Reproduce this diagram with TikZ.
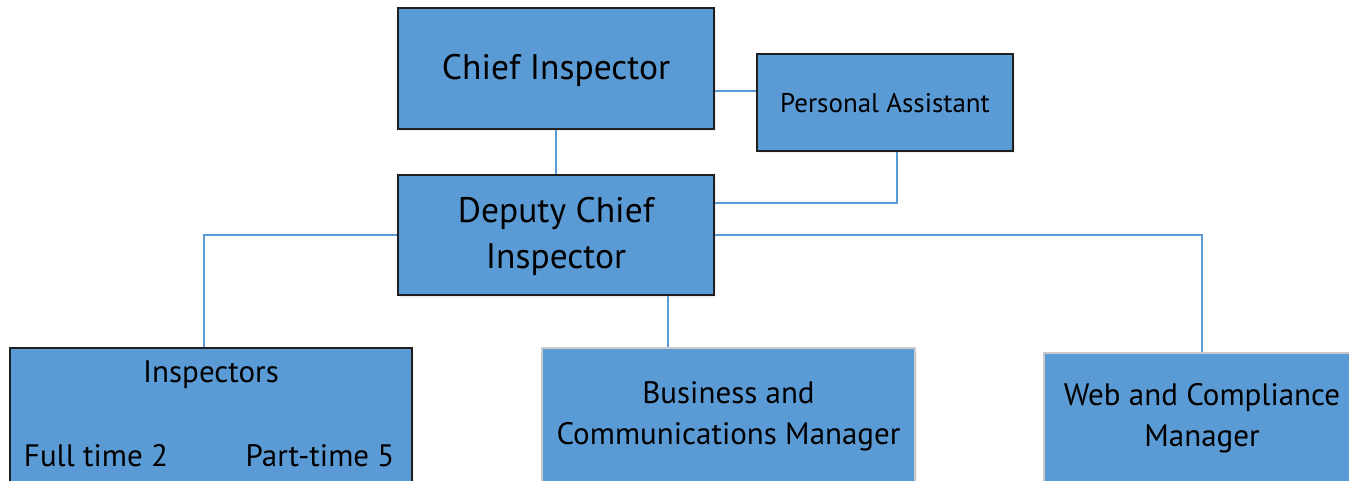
\documentclass[tikz,border=0pt]{standalone}
\usepackage{fontspec}
\setmainfont{PT Sans}
\usetikzlibrary{shadows}
\definecolor{boxblue}{HTML}{5B9BD5}
\definecolor{linkblue}{HTML}{5B9BD5}
\definecolor{softgray}{HTML}{CACACA}
\begin{document}
\begin{tikzpicture}[x=1pt,y=-1pt,
  box/.style={rectangle, draw=black!88, line width=1.6pt, fill=boxblue, inner sep=0pt,
    drop shadow={opacity=0.12, shadow xshift=1.5pt, shadow yshift=-2.5pt}},
  lightbox/.style={box, draw=softgray},
  link/.style={draw=linkblue, line width=2pt},
  bigtext/.style={align=center, font=\fontsize{35.5}{46}\selectfont},
  midtext/.style={align=center, font=\fontsize{31}{41}\selectfont},
  smalltext/.style={align=center, font=\fontsize{27}{32}\selectfont}]
\useasboundingbox (0,0) rectangle (1349,481);
\clip (0,0) rectangle (1349,481);

% boxes
\node[box, minimum width=316pt, minimum height=121pt] (ci) at (556,68.5) {};
\node[box, minimum width=256pt, minimum height=97pt] (pa) at (885,102.5) {};
\node[box, minimum width=316pt, minimum height=120pt] (dci) at (556,235) {};
\node[box, minimum width=402pt, minimum height=160pt] (insp) at (211,428) {};
\node[lightbox, minimum width=373pt, minimum height=160pt] (bus) at (728.5,428) {};
\node[lightbox, minimum width=316pt, minimum height=155pt] (web) at (1202,430.5) {};

% texts
\node[bigtext] (ci-t) at (556,70) {Chief Inspector};
\node[smalltext] (pa-t) at (885,103) {Personal Assistant};
\node[bigtext] (dci-t) at (556,236) {Deputy Chief\\Inspector};
\node[midtext] (insp-t) at (211,375) {Inspectors};
\node[midtext] (insp-ft) at (96,456) {Full time 2};
\node[midtext] (insp-pt) at (320,456) {Part-time 5};
\node[midtext] (bus-t) at (728.5,416) {Business and\\Communications Manager};
\node[midtext] (web-t) at (1202,418) {Web and Compliance\\Manager};

% connectors
\draw[link] (ci.south) -- (dci.north);
\draw[link] ([yshift=-22.5pt]ci.east) -- ([yshift=-22.5pt]ci.east -| pa.west);
\draw[link] ([xshift=12pt]pa.south) |- ([yshift=32pt]dci.east);
\draw[link] (dci.west) -| ([xshift=-7pt]insp.north);
\draw[link] ([xshift=112pt]dci.south) -- ([xshift=112pt]dci.south |- bus.north);
\draw[link] (dci.east) -| (web.north);
\end{tikzpicture}
\end{document}
